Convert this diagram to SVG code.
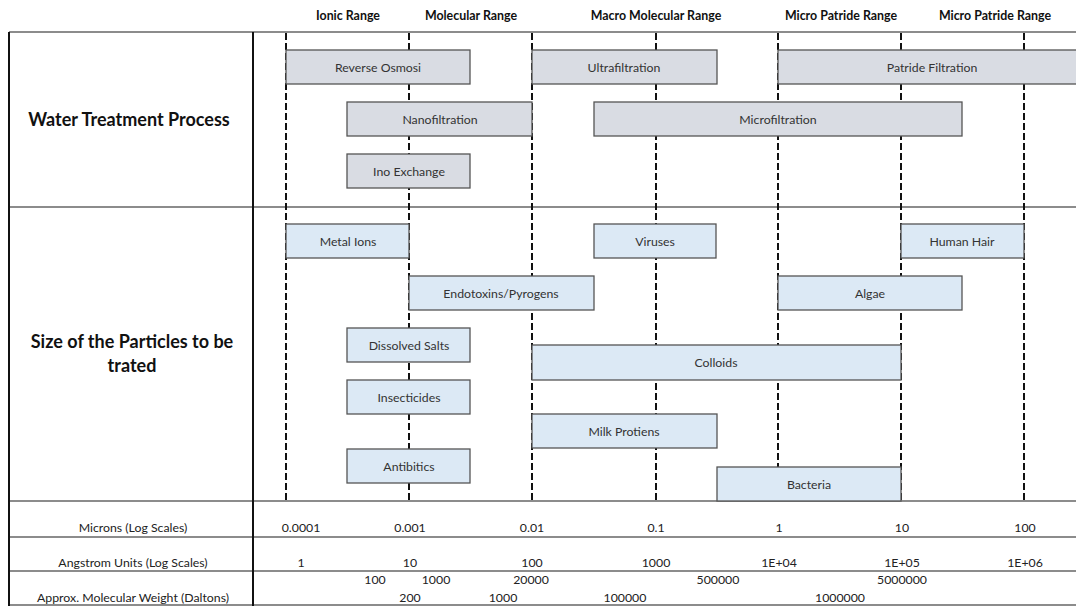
<svg xmlns="http://www.w3.org/2000/svg" width="1076" height="606" viewBox="0 0 1076 606">
  <style>
    text { font-family: Lato, "Open Sans", "Liberation Sans", sans-serif; fill: #262626; }
    .head { font-size: 12.4px; font-weight: bold; text-anchor: middle; fill: #111; }
    .title { font-size: 18px; font-weight: bold; text-anchor: middle; fill: #111; }
    .lbl { font-size: 12.3px; text-anchor: middle; fill: #333; }
    .val { font-size: 12.3px; text-anchor: middle; fill: #222; }
    .proc { fill: #d9dce3; stroke: #555; stroke-width: 1.3; }
    .part { fill: #dce9f5; stroke: #555; stroke-width: 1.3; }
    .grid { stroke: #111; stroke-width: 2; stroke-dasharray: 7 3; fill: none; }
    .rule { stroke: #666; stroke-width: 1.6; fill: none; }
    .frame { stroke: #111; stroke-width: 2; fill: none; }
  </style>
  <rect width="1076" height="606" fill="#fff"/>

  <!-- range headings -->
  <g id="headings">
    <text class="head" x="348" y="20">Ionic Range</text>
    <text class="head" x="471" y="20">Molecular Range</text>
    <text class="head" x="656" y="20">Macro Molecular Range</text>
    <text class="head" x="841" y="20">Micro Patride Range</text>
    <text class="head" x="995" y="20">Micro Patride Range</text>
  </g>

  <!-- table rules -->
  <g id="table">
    <line class="rule" x1="9" y1="32" x2="1076" y2="32"/>
    <line class="rule" x1="9" y1="207" x2="1076" y2="207"/>
    <line class="rule" x1="9" y1="501" x2="1076" y2="501"/>
    <line class="rule" x1="9" y1="537" x2="1076" y2="537"/>
    <line class="rule" x1="9" y1="571" x2="1076" y2="571"/>
    <line class="rule" x1="9" y1="605" x2="1076" y2="605"/>
    <line class="frame" x1="9" y1="32" x2="9" y2="606"/>
    <line class="frame" x1="253" y1="32" x2="253" y2="606"/>
  </g>

  <!-- decade gridlines -->
  <g id="connectors">
    <line class="grid" x1="286" y1="33" x2="286" y2="501"/>
    <line class="grid" x1="409" y1="33" x2="409" y2="501"/>
    <line class="grid" x1="532" y1="33" x2="532" y2="501"/>
    <line class="grid" x1="656" y1="33" x2="656" y2="501"/>
    <line class="grid" x1="778" y1="33" x2="778" y2="501"/>
    <line class="grid" x1="901" y1="33" x2="901" y2="501"/>
    <line class="grid" x1="1024" y1="33" x2="1024" y2="501"/>
  </g>

  <!-- row titles -->
  <g id="row-titles">
    <text class="title" x="129" y="126">Water Treatment Process</text>
    <text class="title" x="132" y="348">Size of the Particles to be</text>
    <text class="title" x="132" y="372">trated</text>
  </g>

  <!-- treatment processes -->
  <g id="reverse-osmosi"><rect class="proc" x="286" y="50" width="184" height="34"/><text class="lbl" x="378" y="71.5">Reverse Osmosi</text></g>
  <g id="ultrafiltration"><rect class="proc" x="532" y="50" width="185" height="34"/><text class="lbl" x="624" y="71.5">Ultrafiltration</text></g>
  <g id="patride-filtration"><rect class="proc" x="778" y="50" width="302" height="34"/><text class="lbl" x="932" y="71.5">Patride Filtration</text></g>
  <g id="nanofiltration"><rect class="proc" x="347" y="102" width="185" height="34"/><text class="lbl" x="440" y="123.5">Nanofiltration</text></g>
  <g id="microfiltration"><rect class="proc" x="594" y="102" width="368" height="34"/><text class="lbl" x="778" y="123.5">Microfiltration</text></g>
  <g id="ino-exchange"><rect class="proc" x="347" y="154" width="123" height="34"/><text class="lbl" x="409" y="175.5">Ino Exchange</text></g>

  <!-- particle sizes -->
  <g id="metal-ions"><rect class="part" x="286" y="224" width="123" height="34"/><text class="lbl" x="348" y="245.5">Metal Ions</text></g>
  <g id="viruses"><rect class="part" x="594" y="224" width="122" height="34"/><text class="lbl" x="655" y="245.5">Viruses</text></g>
  <g id="human-hair"><rect class="part" x="901" y="224" width="123" height="34"/><text class="lbl" x="962" y="245.5">Human Hair</text></g>
  <g id="endotoxins"><rect class="part" x="409" y="276" width="185" height="34"/><text class="lbl" x="501" y="297.5">Endotoxins/Pyrogens</text></g>
  <g id="algae"><rect class="part" x="778" y="276" width="184" height="34"/><text class="lbl" x="870" y="297.5">Algae</text></g>
  <g id="dissolved-salts"><rect class="part" x="347" y="328" width="123" height="34"/><text class="lbl" x="409" y="349.5">Dissolved Salts</text></g>
  <g id="colloids"><rect class="part" x="532" y="345" width="369" height="35"/><text class="lbl" x="716" y="366.5">Colloids</text></g>
  <g id="insecticides"><rect class="part" x="347" y="380" width="123" height="34"/><text class="lbl" x="409" y="401.5">Insecticides</text></g>
  <g id="milk-protiens"><rect class="part" x="532" y="414" width="185" height="34"/><text class="lbl" x="624" y="435.5">Milk Protiens</text></g>
  <g id="antibitics"><rect class="part" x="347" y="449" width="123" height="34"/><text class="lbl" x="409" y="470.5">Antibitics</text></g>
  <g id="bacteria"><rect class="part" x="717" y="467" width="184" height="34"/><text class="lbl" x="809" y="488.5">Bacteria</text></g>

  <!-- scales -->
  <g id="scale-microns">
    <text class="val" x="133" y="531.5">Microns (Log Scales)</text>
    <text class="val" x="301" y="531.5">0.0001</text>
    <text class="val" x="410" y="531.5">0.001</text>
    <text class="val" x="532" y="531.5">0.01</text>
    <text class="val" x="656" y="531.5">0.1</text>
    <text class="val" x="779" y="531.5">1</text>
    <text class="val" x="902" y="531.5">10</text>
    <text class="val" x="1025" y="531.5">100</text>
  </g>
  <g id="scale-angstrom">
    <text class="val" x="133" y="566.5">Angstrom Units (Log Scales)</text>
    <text class="val" x="301" y="566.5">1</text>
    <text class="val" x="410" y="566.5">10</text>
    <text class="val" x="532" y="566.5">100</text>
    <text class="val" x="656" y="566.5">1000</text>
    <text class="val" x="779" y="566.5">1E+04</text>
    <text class="val" x="902" y="566.5">1E+05</text>
    <text class="val" x="1025" y="566.5">1E+06</text>
  </g>
  <g id="scale-daltons">
    <text class="val" x="133" y="601.5">Approx. Molecular Weight (Daltons)</text>
    <text class="val" x="375" y="583.5">100</text>
    <text class="val" x="436" y="583.5">1000</text>
    <text class="val" x="531" y="583.5">20000</text>
    <text class="val" x="718" y="583.5">500000</text>
    <text class="val" x="902" y="583.5">5000000</text>
    <text class="val" x="410" y="601.5">200</text>
    <text class="val" x="503" y="601.5">1000</text>
    <text class="val" x="625" y="601.5">100000</text>
    <text class="val" x="840" y="601.5">1000000</text>
  </g>
</svg>
